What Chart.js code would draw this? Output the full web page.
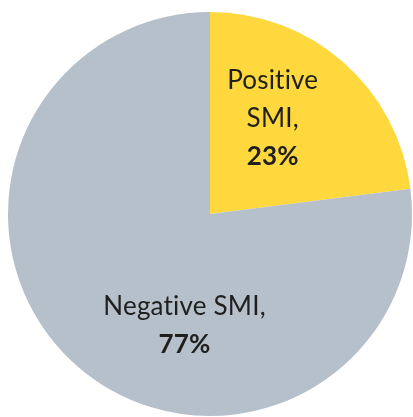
<!DOCTYPE html>
<html>
<head>
<meta charset="utf-8">
<script src="https://cdn.jsdelivr.net/npm/chart.js@4"></script>
<style>
  html, body { margin: 0; padding: 0; background: #fff; }
  #wrap { width: 413px; height: 417px; }
</style>
</head>
<body>
<div id="wrap"><canvas id="smiChart" width="413" height="417"></canvas></div>
<script>
// data
var labels = ['Positive SMI', 'Negative SMI'];
var values = [23, 77];
var colors = ['#FED83C', '#B6C0CA'];

// where each label sits: angle (deg, 0 = 3 o'clock, clockwise) and fraction of radius
var labelSpots = [
    { angle: -57, r: 0.57, lines: ['Positive', 'SMI,'] },
    { angle: 103, r: 0.56, lines: ['Negative SMI,'] }
];

var sliceLabels = {
    id: 'sliceLabels',
    afterDatasetsDraw: function(chart) {
        var ctx = chart.ctx;
        var arcs = chart.getDatasetMeta(0).data;
        arcs.forEach(function(arc, i) {
            var spot = labelSpots[i];
            var a = spot.angle * Math.PI / 180;
            var cx = arc.x + Math.cos(a) * arc.outerRadius * spot.r;
            var cy = arc.y + Math.sin(a) * arc.outerRadius * spot.r;
            var lineH = 38;
            var all = spot.lines.concat([values[i] + '%']);
            var y0 = cy - (all.length - 1) * lineH / 2 + 1;
            ctx.save();
            ctx.fillStyle = '#1f1f1f';
            ctx.textAlign = 'center';
            ctx.textBaseline = 'middle';
            ctx.letterSpacing = '0.2px'; // keeps "ti" from joining
            all.forEach(function(txt, k) {
                var bold = k === all.length - 1;
                ctx.font = (bold ? 'bold ' : '') + '26px Lato, "Open Sans", sans-serif';
                ctx.fillText(txt, cx, y0 + k * lineH);
            });
            ctx.restore();
        });
    }
};

var ctx = document.getElementById('smiChart').getContext('2d');
var smiChart = new Chart(ctx, {
    type: 'pie',
    data: {
        labels: labels,
        datasets: [{
            data: values,
            backgroundColor: colors,
            borderWidth: 0
        }]
    },
    options: {
        responsive: false,
        animation: false,
        layout: { padding: { left: 8, right: 1, top: 12, bottom: 1 } },
        plugins: {
            legend: { display: false },
            tooltip: { enabled: false }
        }
    },
    plugins: [sliceLabels]
});
</script>
</body>
</html>
